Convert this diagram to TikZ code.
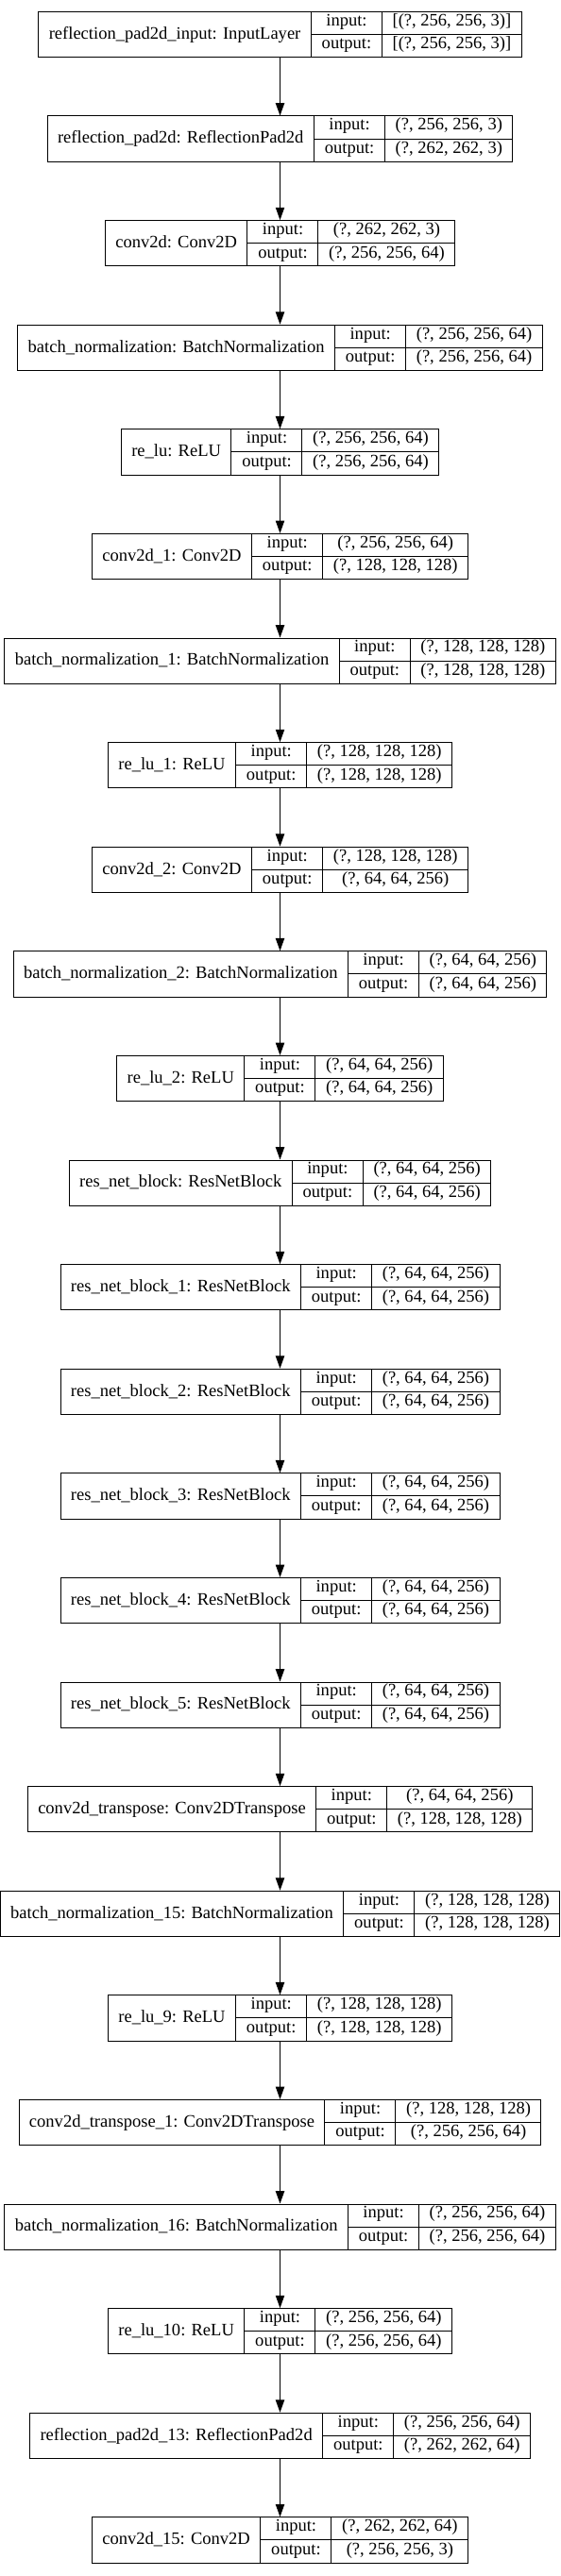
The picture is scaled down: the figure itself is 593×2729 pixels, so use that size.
\documentclass[tikz,border=0pt]{standalone}
\usepackage{fontspec}
\setmainfont{Liberation Serif}
\usepackage{tikz}
\usetikzlibrary{arrows.meta}

\setlength{\arrayrulewidth}{0.75pt}
\newcommand{\lyrfont}{\fontsize{13.9pt}{16pt}\selectfont}
\newcommand{\rowstrut}{\rule[-6.5pt]{0pt}{15.9pt}}
\newcommand{\lyr}[3]{%
	\begin{tabular}{@{\hspace{8.2pt}}c@{\hspace{8.2pt}}|@{}c@{}}
		#1 &
		\begin{tabular}{@{\hspace{8.2pt}}c@{\hspace{8.2pt}}|@{\hspace{8.2pt}}c@{\hspace{8.2pt}}}
			\rowstrut input: & #2\\ \hline
			\rowstrut output: & #3
		\end{tabular}
	\end{tabular}}

\tikzset{
	layer/.style={draw=black, line width=0.75pt, inner sep=0pt, font=\lyrfont},
	flow/.style={-{Triangle[length=10pt,width=7pt]}, line width=0.75pt}
}

\begin{document}
\begin{tikzpicture}[x=0.75pt, y=-0.75pt]
	
	\useasboundingbox (0, 0) rectangle (593, 2729);
	
	\node[layer] (rpin) at (296.5, 36.5)   {\lyr{reflection\_pad2d\_input: InputLayer}{[(?, 256, 256, 3)]}{[(?, 256, 256, 3)]}};
	\node[layer] (rp)   at (296.5, 147.1)  {\lyr{reflection\_pad2d: ReflectionPad2d}{(?, 256, 256, 3)}{(?, 262, 262, 3)}};
	\node[layer] (cv)   at (296.5, 257.7)  {\lyr{conv2d: Conv2D}{(?, 262, 262, 3)}{(?, 256, 256, 64)}};
	\node[layer] (bn)   at (296.5, 368.3)  {\lyr{batch\_normalization: BatchNormalization}{(?, 256, 256, 64)}{(?, 256, 256, 64)}};
	\node[layer] (rl)   at (296.5, 478.9)  {\lyr{re\_lu: ReLU}{(?, 256, 256, 64)}{(?, 256, 256, 64)}};
	\node[layer] (cv1)  at (296.5, 589.5)  {\lyr{conv2d\_1: Conv2D}{(?, 256, 256, 64)}{(?, 128, 128, 128)}};
	\node[layer] (bn1)  at (296.5, 700.1)  {\lyr{batch\_normalization\_1: BatchNormalization}{(?, 128, 128, 128)}{(?, 128, 128, 128)}};
	\node[layer] (rl1)  at (296.5, 810.7)  {\lyr{re\_lu\_1: ReLU}{(?, 128, 128, 128)}{(?, 128, 128, 128)}};
	\node[layer] (cv2)  at (296.5, 921.3)  {\lyr{conv2d\_2: Conv2D}{(?, 128, 128, 128)}{(?, 64, 64, 256)}};
	\node[layer] (bn2)  at (296.5, 1031.9) {\lyr{batch\_normalization\_2: BatchNormalization}{(?, 64, 64, 256)}{(?, 64, 64, 256)}};
	\node[layer] (rl2)  at (296.5, 1142.5) {\lyr{re\_lu\_2: ReLU}{(?, 64, 64, 256)}{(?, 64, 64, 256)}};
	\node[layer] (rb)   at (296.5, 1253.1) {\lyr{res\_net\_block: ResNetBlock}{(?, 64, 64, 256)}{(?, 64, 64, 256)}};
	\node[layer] (rb1)  at (296.5, 1363.7) {\lyr{res\_net\_block\_1: ResNetBlock}{(?, 64, 64, 256)}{(?, 64, 64, 256)}};
	\node[layer] (rb2)  at (296.5, 1474.3) {\lyr{res\_net\_block\_2: ResNetBlock}{(?, 64, 64, 256)}{(?, 64, 64, 256)}};
	\node[layer] (rb3)  at (296.5, 1584.9) {\lyr{res\_net\_block\_3: ResNetBlock}{(?, 64, 64, 256)}{(?, 64, 64, 256)}};
	\node[layer] (rb4)  at (296.5, 1695.5) {\lyr{res\_net\_block\_4: ResNetBlock}{(?, 64, 64, 256)}{(?, 64, 64, 256)}};
	\node[layer] (rb5)  at (296.5, 1806.1) {\lyr{res\_net\_block\_5: ResNetBlock}{(?, 64, 64, 256)}{(?, 64, 64, 256)}};
	\node[layer] (ct)   at (296.5, 1916.7) {\lyr{conv2d\_transpose: Conv2DTranspose}{(?, 64, 64, 256)}{(?, 128, 128, 128)}};
	\node[layer] (bn15) at (296.5, 2027.3) {\lyr{batch\_normalization\_15: BatchNormalization}{(?, 128, 128, 128)}{(?, 128, 128, 128)}};
	\node[layer] (rl9)  at (296.5, 2137.9) {\lyr{re\_lu\_9: ReLU}{(?, 128, 128, 128)}{(?, 128, 128, 128)}};
	\node[layer] (ct1)  at (296.5, 2248.5) {\lyr{conv2d\_transpose\_1: Conv2DTranspose}{(?, 128, 128, 128)}{(?, 256, 256, 64)}};
	\node[layer] (bn16) at (296.5, 2359.1) {\lyr{batch\_normalization\_16: BatchNormalization}{(?, 256, 256, 64)}{(?, 256, 256, 64)}};
	\node[layer] (rl10) at (296.5, 2469.7) {\lyr{re\_lu\_10: ReLU}{(?, 256, 256, 64)}{(?, 256, 256, 64)}};
	\node[layer] (rp13) at (296.5, 2580.3) {\lyr{reflection\_pad2d\_13: ReflectionPad2d}{(?, 256, 256, 64)}{(?, 262, 262, 64)}};
	\node[layer] (cv15) at (296.5, 2690.9) {\lyr{conv2d\_15: Conv2D}{(?, 262, 262, 64)}{(?, 256, 256, 3)}};
	
	\path[flow] (rpin) edge (rp);
	\path[flow] (rp) edge (cv);
	\path[flow] (cv) edge (bn);
	\path[flow] (bn) edge (rl);
	\path[flow] (rl) edge (cv1);
	\path[flow] (cv1) edge (bn1);
	\path[flow] (bn1) edge (rl1);
	\path[flow] (rl1) edge (cv2);
	\path[flow] (cv2) edge (bn2);
	\path[flow] (bn2) edge (rl2);
	\path[flow] (rl2) edge (rb);
	\path[flow] (rb) edge (rb1);
	\path[flow] (rb1) edge (rb2);
	\path[flow] (rb2) edge (rb3);
	\path[flow] (rb3) edge (rb4);
	\path[flow] (rb4) edge (rb5);
	\path[flow] (rb5) edge (ct);
	\path[flow] (ct) edge (bn15);
	\path[flow] (bn15) edge (rl9);
	\path[flow] (rl9) edge (ct1);
	\path[flow] (ct1) edge (bn16);
	\path[flow] (bn16) edge (rl10);
	\path[flow] (rl10) edge (rp13);
	\path[flow] (rp13) edge (cv15);
	
\end{tikzpicture}
\end{document}
